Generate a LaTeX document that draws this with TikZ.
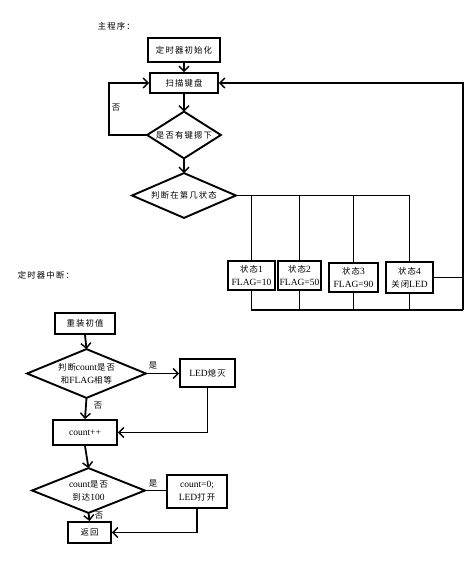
\documentclass[tikz,border=0pt]{standalone}
\usepackage{fontspec}
\setmainfont{Liberation Serif}
\newfontfamily\cjk[Scale=0.88,LetterSpace=14]{Noto Sans CJK SC}
\newcommand\zh[1]{{\cjk #1}}
\usetikzlibrary{arrows.meta}
\begin{document}
\begin{tikzpicture}[x=1pt,y=-1pt,
  line width=1.8pt,
  arr/.style={-{Straight Barb[length=5pt,width=10pt,line width=1.4pt]}},
  box/.style={draw, rectangle, inner sep=0pt, align=center, line width=1.9pt,
    font=\fontsize{9.5}{13}\selectfont},
  dia/.style={rectangle, inner sep=0pt, align=center,
    font=\fontsize{9.5}{13}\selectfont},
  lbl/.style={inner sep=0pt, font=\fontsize{9.5}{12}\selectfont}]
\useasboundingbox (0,0) rectangle (474,562);

% titles
\node[lbl, anchor=west] (t1) at (97,26) {\zh{主程序：}};
\node[lbl, anchor=west] (t2) at (17,275) {\zh{定时器中断：}};

% main program
\node[box, minimum width=72pt, minimum height=24pt] (init) at (184,50) {\zh{定时器初始化}};
\node[box, minimum width=68pt, minimum height=20pt] (scan) at (184,83) {\zh{扫描键盘}};
\node[dia, minimum width=72pt, minimum height=45pt] (d1) at (184,135) {\zh{是否有键摁下}};
\node[dia, minimum width=102pt, minimum height=43pt] (d2) at (184,195.5) {\zh{判断在第几状态}};

\node[box, minimum width=47pt, minimum height=29pt] (s1) at (251.5,275.5) {\zh{状态}1\\FLAG=10};
\node[box, minimum width=43pt, minimum height=29pt] (s2) at (299.5,275.5) {\zh{状态}2\\FLAG=50};
\node[box, minimum width=49pt, minimum height=29pt] (s3) at (353.5,277.5) {\zh{状态}3\\FLAG=90};
\node[box, minimum width=47pt, minimum height=31pt] (s4) at (409.5,277.5) {\zh{状态}4\\\zh{关闭}LED};

\node[lbl] (no1) at (116,108) {\zh{否}};

% timer interrupt
\node[box, minimum width=60pt, minimum height=21pt] (reset) at (85,323.5) {\zh{重装初值}};
\node[dia, minimum width=117pt, minimum height=47pt] (d3) at (86.5,373.5) {\zh{判断}count\zh{是否}\\\zh{和}FLAG\zh{相等}};
\node[box, minimum width=55pt, minimum height=28pt] (led) at (207.5,373) {LED\zh{熄灭}};
\node[box, minimum width=64pt, minimum height=25pt] (cnt) at (85,432.5) {count++};
\node[dia, minimum width=111pt, minimum height=43pt] (d4) at (88.5,490.5) {count\zh{是否}\\\zh{到达}100};
\node[box, minimum width=60pt, minimum height=33pt] (ledon) at (197,491.5) {count=0;\\LED\zh{打开}};
\node[box, minimum width=43pt, minimum height=21pt] (ret) at (89.5,532.5) {\zh{返回}};

\node[lbl] (yes1) at (153,365) {\zh{是}};
\node[lbl] (no2) at (98,406) {\zh{否}};
\node[lbl] (yes2) at (153,483) {\zh{是}};
\node[lbl] (no3) at (99,516) {\zh{否}};

% diamonds outlines
\foreach \d in {d1,d2,d3,d4}
  \draw[line width=1.9pt] (\d.north) -- (\d.east) -- (\d.south) -- (\d.west) -- cycle;

% main connectors
\draw[arr] (init.south) -- (scan.north);
\draw[arr] (scan.south) -- (d1.north);
\coordinate (lp) at (109,135);
\draw[arr] (d1.west) -- (lp) |- (scan.west);
\draw[arr] (d1.south) -- (d2.north);
\draw (d2.east) -| (s4.north);
\draw (s1.north) |- (d2.east);
\draw (s2.north) |- (d2.east);
\draw (s3.north) |- (d2.east);
\coordinate (busL) at (252,310);
\coordinate (busR) at (463,310);
\draw (s1.south) -- (s1.south |- busL) -- (busR);
\draw (s2.south) -- (s2.south |- busL);
\draw (s3.south) -- (s3.south |- busL);
\draw (s4.south) -- (s4.south |- busL);
\draw (s4.east) -- (s4.east -| busR);
\draw[arr] (busR) |- (scan.east);

% timer connectors
\draw[arr] (reset.south) -- (d3.north);
\draw[arr] (d3.east) -- (d3.east -| led.west);
\draw[arr] (d3.south) -- (cnt.north);
\draw[arr] (led.south) |- (cnt.east);
\draw[arr] (cnt.south) -- (d4.north);
\draw (d4.east) -- (d4.east -| ledon.west);
\draw[arr] (d4.south) -- (ret.north);
\draw[arr] (ledon.south) |- (ret.east);
\end{tikzpicture}
\end{document}
